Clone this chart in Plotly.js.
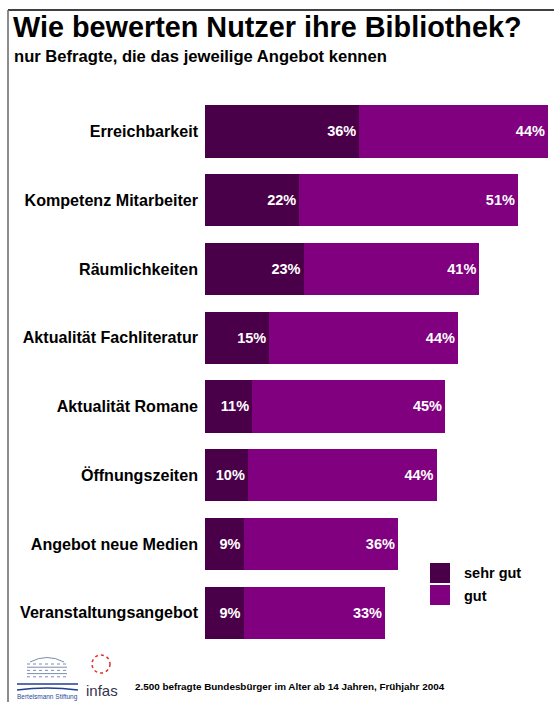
<!DOCTYPE html>
<html>
<head>
<meta charset="utf-8">
<script src="https://cdn.plot.ly/plotly-3.0.1.min.js"></script>
<style>html,body{margin:0;padding:0;background:#fff}#chart{width:554px;height:702px}</style>
</head>
<body>
<div id="chart"></div>
<script>
const categories = ['Erreichbarkeit','Kompetenz Mitarbeiter','Räumlichkeiten','Aktualität Fachliteratur','Aktualität Romane','Öffnungszeiten','Angebot neue Medien','Veranstaltungsangebot'];
const sehrGut = [36,22,23,15,11,10,9,9];
const gut = [44,51,41,44,45,44,36,33];
const seriesNames = ['sehr gut','gut'];
const colors = ['#4a0049','#800080'];
const titleText = 'Wie bewerten Nutzer ihre Bibliothek?';
const subtitleText = 'nur Befragte, die das jeweilige Angebot kennen';
const footerText = '2.500 befragte Bundesbürger im Alter ab 14 Jahren, Frühjahr 2004';

const F = 'Arial, "Liberation Sans", sans-serif';
const NARROW = '"Liberation Sans Narrow", Arial, sans-serif';

// pixel -> paper helpers (plot area: x 205..548, y 97..647)
const px = v => (v-205)/343;
const py = v => (647-v)/550;

function barTrace(vals, name, color){
  return {
    type:'bar', orientation:'h', y:categories, x:vals, name:name,
    marker:{color:color, line:{width:0}},
    texttemplate:'%{x}%', textposition:'inside', insidetextanchor:'end',
    textfont:{family:F, size:14.5, color:'#ffffff', weight:'bold'},
    hoverinfo:'skip', cliponaxis:false
  };
}
const data = [barTrace(sehrGut, seriesNames[0], colors[0]), barTrace(gut, seriesNames[1], colors[1])];

const shapes = [
  {type:'line', xref:'paper', yref:'paper', x0:px(8), x1:px(556), y0:py(10), y1:py(10), line:{color:'#000', width:1.5}},
  {type:'line', xref:'paper', yref:'paper', x0:px(8), x1:px(8), y0:py(704), y1:py(10), line:{color:'#666', width:1.5}},
  {type:'rect', xref:'paper', yref:'paper', x0:px(430), x1:px(450), y0:py(583), y1:py(563), fillcolor:colors[0], line:{width:0}},
  {type:'rect', xref:'paper', yref:'paper', x0:px(430), x1:px(450), y0:py(605), y1:py(585), fillcolor:colors[1], line:{width:0}},
];
// Bertelsmann logo approximation
shapes.push({type:'path', xref:'paper', yref:'paper',
  path:`M ${px(30)} ${py(662)} Q ${px(47)} ${py(653)} ${px(64)} ${py(662)}`, line:{color:'#7c8db0', width:1}});
for (let i=0;i<5;i++){
  const yy = 664 + i*3.2;
  shapes.push({type:'line', xref:'paper', yref:'paper', x0:px(27), x1:px(67), y0:py(yy), y1:py(yy), line:{color:'#7c8db0', width:1, dash:i%2?'solid':'dot'}});
}
shapes.push({type:'line', xref:'paper', yref:'paper', x0:px(17), x1:px(78), y0:py(684), y1:py(684), line:{color:'#1f3f8f', width:1.5}});
shapes.push({type:'path', xref:'paper', yref:'paper',
  path:`M ${px(17)} ${py(690)} Q ${px(47)} ${py(686)} ${px(78)} ${py(690)}`, line:{color:'#1f3f8f', width:1.5}});
// infas circle
shapes.push({type:'circle', xref:'paper', yref:'paper', x0:px(92), x1:px(110), y0:py(673), y1:py(655), line:{color:'#e03030', width:1.5, dash:'dot'}});

const annotations = [
  {text:titleText, xref:'paper', yref:'paper', x:px(11), y:py(27), xanchor:'left', yanchor:'middle', showarrow:false,
   font:{family:F, size:28.8, color:'#000', weight:'bold'}},
  {text:subtitleText, xref:'paper', yref:'paper', x:px(12), y:py(57), xanchor:'left', yanchor:'middle', showarrow:false,
   font:{family:F, size:16.6, color:'#000', weight:'bold'}},
  {text:seriesNames[0], xref:'paper', yref:'paper', x:px(462), y:py(573), xanchor:'left', yanchor:'middle', showarrow:false,
   font:{family:F, size:14.5, color:'#000', weight:'bold'}},
  {text:seriesNames[1], xref:'paper', yref:'paper', x:px(462), y:py(596), xanchor:'left', yanchor:'middle', showarrow:false,
   font:{family:F, size:14.5, color:'#000', weight:'bold'}},
  {text:footerText, xref:'paper', yref:'paper', x:px(133), y:py(686), xanchor:'left', yanchor:'middle', showarrow:false,
   font:{family:NARROW, size:9.9, color:'#000', weight:'bold'}},
  {text:'Bertelsmann Stiftung', xref:'paper', yref:'paper', x:px(47), y:py(697), xanchor:'center', yanchor:'middle', showarrow:false,
   font:{family:NARROW, size:6.5, color:'#2a4a9a'}},
  {text:'infas', xref:'paper', yref:'paper', x:px(102), y:py(690), xanchor:'center', yanchor:'middle', showarrow:false,
   font:{family:NARROW, size:15, color:'#33334d'}},
];

const layout = {
  width:554, height:702,
  margin:{l:205, r:6, t:97, b:55, pad:0},
  paper_bgcolor:'#fff', plot_bgcolor:'#fff',
  barmode:'stack', bargap:0.24, showlegend:false,
  xaxis:{range:[0,80], visible:false, fixedrange:true},
  yaxis:{autorange:'reversed', showgrid:false, zeroline:false, showline:false, ticks:'', ticklabelstandoff:6,
         tickfont:{family:F, size:16.1, color:'#000', weight:'bold'}},
  shapes:shapes, annotations:annotations,
  font:{family:F}
};
Plotly.newPlot('chart', data, layout, {displayModeBar:false, staticPlot:true});
</script>
</body>
</html>
